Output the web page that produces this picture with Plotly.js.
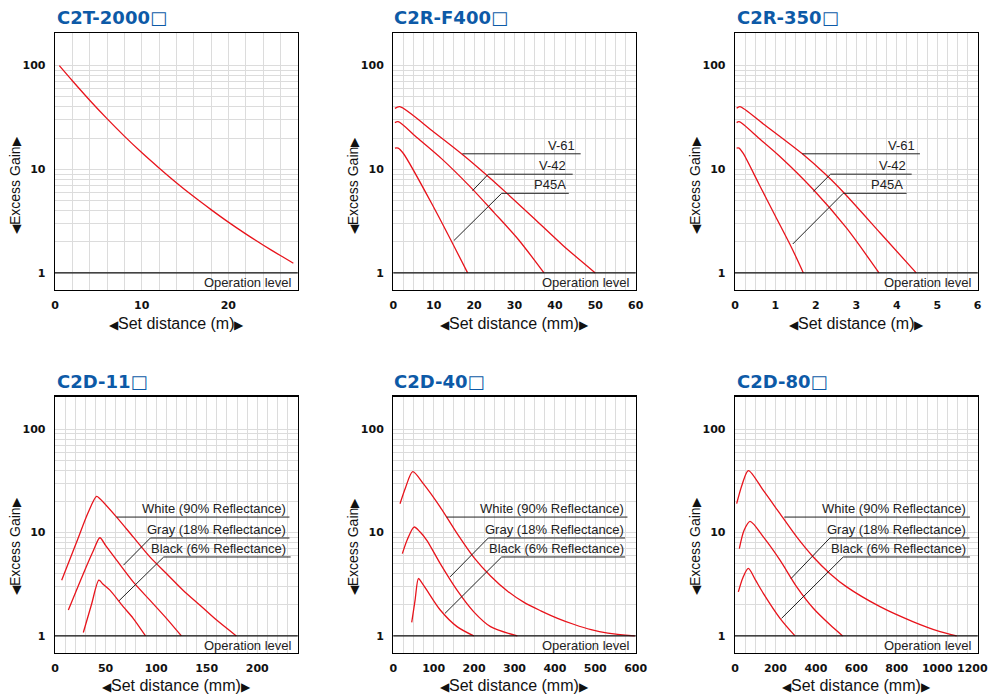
<!DOCTYPE html>
<html><head><meta charset="utf-8">
<script src="https://cdn.plot.ly/plotly-3.0.1.min.js"></script>
<style>html,body{margin:0;padding:0;background:#fff;} #chart{width:990px;height:699px;}</style>
</head><body><div id="chart"></div>
<script>
// ---------- DATA ----------
// Excess gain ticks (log axis)
const gain_ticks = [1, 10, 100];

// C2T-2000 (m)
const c2t_ticks = [0, 10, 20];
const c2t_x = [0.5, 2, 4, 6, 8, 10, 12, 14, 16, 18, 20, 22, 24, 26, 27.5];
const c2t_y = [100, 71.5, 46.4, 30.8, 20.9, 14.5, 10.3, 7.42, 5.45, 4.08, 3.09, 2.38, 1.86, 1.47, 1.24];

// C2R-F400 (mm)
const f400_ticks = [0, 10, 20, 30, 40, 50, 60];
const f400_v61_x = [0.4, 1.6, 10, 17.5, 23, 28, 35, 42, 50];
const f400_v61_y = [38.7, 40.2, 22.9, 13.5, 8.85, 5.92, 3.31, 1.84, 1.0];
const f400_v42_x = [0.4, 1.2, 6, 12, 19, 25, 31, 37.3];
const f400_v42_y = [28.2, 28.8, 20.0, 12.6, 6.8, 3.8, 2.09, 1.0];
const f400_p45a_x = [0.4, 1.2, 2.5, 10, 18.4];
const f400_p45a_y = [16, 16, 14.2, 4.3, 1.0];

// C2R-350 (m)
const r350_ticks = [0, 1, 2, 3, 4, 5, 6];
const r350_v61_x = [0.04, 0.12, 0.7, 1.665, 2.27, 2.68, 3.59, 4.48];
const r350_v61_y = [38.8, 40.3, 27.4, 14.1, 8.7, 6.0, 2.43, 1.0];
const r350_v42_x = [0.04, 0.1, 0.6, 1.11, 1.94, 2.76, 3.56];
const r350_v42_y = [28.2, 28.8, 19.8, 13.3, 6.35, 2.7, 1.0];
const r350_p45a_x = [0.04, 0.1, 0.2, 0.6, 1.0, 1.4, 1.69];
const r350_p45a_y = [16, 16, 14.3, 7.1, 3.52, 1.75, 1.0];

// C2D-11 (mm)
const d11_ticks = [0, 50, 100, 150, 200];
const d11_white_x = [6.6, 21.4, 32.9, 41.1, 44.4, 60.9, 77.3, 93.8, 110.2, 126.6, 143.1, 159.5, 179.3];
const d11_white_y = [3.46, 8.1, 15.7, 22.3, 21.2, 14.1, 9.06, 5.81, 4.01, 2.77, 1.99, 1.43, 1.0];
const d11_gray_x = [13.2, 28, 38, 44.4, 50, 60.9, 77.3, 93.8, 110.2, 125];
const d11_gray_y = [1.78, 4.0, 6.7, 8.9, 7.5, 5.4, 3.33, 2.22, 1.48, 1.0];
const d11_black_x = [28.0, 36, 43.4, 47, 54.3, 67.4, 77.3, 89.5];
const d11_black_y = [1.08, 2.0, 3.46, 3.2, 2.77, 1.92, 1.48, 1.0];

// C2D-40 (mm)
const d40_ticks = [0, 100, 200, 300, 400, 500, 600];
const d40_white_x = [16.6, 30, 48.1, 74.7, 116.2, 157.7, 199.2, 240.7, 282.2, 323.7, 365.1, 406.6, 448, 489.6, 531, 597.5];
const d40_white_y = [19, 27, 38.8, 29.5, 17.6, 9.8, 5.75, 3.8, 2.72, 2.11, 1.75, 1.48, 1.29, 1.15, 1.066, 1.0];
const d40_gray_x = [22.4, 35, 51.5, 66.4, 83, 116.2, 157.7, 199.2, 240.7, 307];
const d40_gray_y = [6.25, 8.6, 11.3, 10.1, 8.4, 5.0, 2.77, 1.71, 1.23, 1.0];
const d40_black_x = [45.6, 53.9, 62.2, 70, 83, 116.2, 157.7, 199.2];
const d40_black_y = [1.35, 2.22, 3.59, 3.3, 2.77, 1.78, 1.23, 1.0];

// C2D-80 (mm)
const d80_ticks = [0, 200, 400, 600, 800, 1000, 1200];
const d80_white_x = [8.2, 35, 66, 140, 222.5, 305, 387, 470, 552, 717, 882, 1014, 1096];
const d80_white_y = [19, 29, 39.7, 25.5, 15.2, 9.06, 5.8, 4.0, 2.98, 1.92, 1.37, 1.1, 1.0];
const d80_gray_x = [21.4, 45, 74.2, 140, 222.5, 305, 387, 470, 532];
const d80_gray_y = [6.98, 10.5, 12.8, 9.06, 5.4, 2.98, 1.85, 1.28, 1.0];
const d80_black_x = [16.5, 40, 66, 100, 140, 222.5, 296.7];
const d80_black_y = [2.67, 3.7, 4.49, 3.5, 2.58, 1.48, 1.0];

// ---------- LAYOUT ----------
const W = 990, H = 699;
const colDom = [[55, 297.7], [393.3, 635.7], [735, 977.7]];
const rowDom = [[33, 290], [396.5, 653]];
const titleY = [17, 381], xTitleY = [323, 685], yTitleY = [185, 546];

const panels = [
  {title:'C2T-2000', max:28, step:2, ticks:c2t_ticks, unit:'(m)', col:0, row:0,
   series:[[c2t_x, c2t_y]], labels:[]},
  {title:'C2R-F400', max:60, step:2.5, ticks:f400_ticks, unit:'(mm)', col:1, row:0,
   series:[[f400_v61_x, f400_v61_y],[f400_v42_x, f400_v42_y],[f400_p45a_x, f400_p45a_y]],
   labels:[
     {t:'V-61', tx:0.757, u0:0.285, u1:0.773, y:14.1},
     {t:'V-42', tx:0.719, u0:0.392, u1:0.740, y:8.96, dx:0.327, dy:6.22},
     {t:'P45A', tx:0.719, u0:0.447, u1:0.724, y:5.86, dx:0.250, dy:2.05}]},
  {title:'C2R-350', max:6, step:0.25, ticks:r350_ticks, unit:'(m)', col:2, row:0,
   series:[[r350_v61_x, r350_v61_y],[r350_v42_x, r350_v42_y],[r350_p45a_x, r350_p45a_y]],
   labels:[
     {t:'V-61', tx:0.749, u0:0.277, u1:0.762, y:14.1},
     {t:'V-42', tx:0.714, u0:0.394, u1:0.728, y:8.97, dx:0.323, dy:6.12},
     {t:'P45A', tx:0.700, u0:0.446, u1:0.707, y:5.86, dx:0.238, dy:1.9}]},
  {title:'C2D-11', max:240, step:10, ticks:d11_ticks, unit:'(mm)', col:0, row:1,
   series:[[d11_white_x, d11_white_y],[d11_gray_x, d11_gray_y],[d11_black_x, d11_black_y]],
   labels:[
     {t:'White (90% Reflectance)', tx:0.962, u0:0.254, u1:0.966, y:14.1},
     {t:'Gray (18% Reflectance)', tx:0.962, u0:0.393, u1:0.966, y:8.85, dx:0.282, dy:4.83},
     {t:'Black (6% Reflectance)', tx:0.962, u0:0.448, u1:0.971, y:5.8, dx:0.264, dy:2.19}]},
  {title:'C2D-40', max:600, step:25, ticks:d40_ticks, unit:'(mm)', col:1, row:1,
   series:[[d40_white_x, d40_white_y],[d40_gray_x, d40_gray_y],[d40_black_x, d40_black_y]],
   labels:[
     {t:'White (90% Reflectance)', tx:0.96, u0:0.220, u1:0.966, y:14.1},
     {t:'Gray (18% Reflectance)', tx:0.96, u0:0.392, u1:0.956, y:8.85, dx:0.234, dy:3.72},
     {t:'Black (6% Reflectance)', tx:0.96, u0:0.447, u1:0.956, y:5.8, dx:0.213, dy:1.65}]},
  {title:'C2D-80', max:1200, step:50, ticks:d80_ticks, unit:'(mm)', col:2, row:1, edgeLabel:true,
   series:[[d80_white_x, d80_white_y],[d80_gray_x, d80_gray_y],[d80_black_x, d80_black_y]],
   labels:[
     {t:'White (90% Reflectance)', tx:0.962, u0:0.203, u1:0.968, y:14.1},
     {t:'Gray (18% Reflectance)', tx:0.962, u0:0.391, u1:0.966, y:8.85, dx:0.231, dy:3.59},
     {t:'Black (6% Reflectance)', tx:0.962, u0:0.446, u1:0.968, y:5.8, dx:0.192, dy:1.48}]}
];

const RED = '#e8141c', GRID = '#dcdcdc', TXT = '#222';
const tickFont = {family:'DejaVu Sans', size:11, color:'#111', weight:'bold'};
const lblFont = {family:'Liberation Sans, Arial, sans-serif', size:13, color:TXT};
const tri = s => '<span style="font-size:12px">' + s + '</span>';

const traces = [], annotations = [], shapes = [];
const layout = {width:W, height:H, margin:{l:0,r:0,t:0,b:0}, paper_bgcolor:'#fff', plot_bgcolor:'#fff',
  showlegend:false, hovermode:false, annotations, shapes};

// y-grid values: 1..9, 10..90, 100
const yGrid = [];
[1, 10].forEach(d => { for (let k = 1; k <= 9; k++) yGrid.push(k * d); });
yGrid.push(100);

panels.forEach((p, i) => {
  const n = i + 1, xs = n === 1 ? '' : String(n);
  const xa = 'x' + xs, ya = 'y' + xs;
  const cd = colDom[p.col], rd = rowDom[p.row];
  const xv = [], xt = [];
  const lastTick = p.ticks[p.ticks.length - 1];
  for (let k = 0; k * p.step <= p.max + 1e-9; k++) {
    const v = Math.round(k * p.step * 1000) / 1000;
    const show = p.ticks.includes(v) && !(p.edgeLabel && v === lastTick);
    xv.push(v); xt.push(show ? String(v) : '');
  }
  if (p.edgeLabel) {
    // last tick label sits at the figure's right edge: keep it inside
    annotations.push({xref:'paper', yref:'paper', x:989.5/W, y:1 - (rd[1] + 15.5)/H, xanchor:'right', yanchor:'middle',
      showarrow:false, text:String(lastTick), font:tickFont});
  }
  layout['xaxis' + xs] = {domain:[cd[0]/W, cd[1]/W], range:[0, p.max], anchor:ya,
    tickvals:xv, ticktext:xt, showgrid:true, gridcolor:GRID, gridwidth:1, zeroline:false,
    showline:true, mirror:true, linecolor:'#000', linewidth:1.3, ticks:'', tickfont:tickFont,
    ticklabelstandoff:4, ticklabeloverflow:'allow', fixedrange:true, tickangle:0};
  layout['yaxis' + xs] = {domain:[1 - rd[1]/H, 1 - rd[0]/H], type:'log', range:[-0.165, 2.315], anchor:xa,
    tickvals:yGrid, ticktext:yGrid.map(v => gain_ticks.includes(v) ? String(v) : ''),
    showgrid:true, gridcolor:GRID, gridwidth:1, zeroline:false,
    showline:true, mirror:true, linecolor:'#000', linewidth:1.3, ticks:'', tickfont:tickFont,
    ticklabelstandoff:6, fixedrange:true};

  p.series.forEach(s => traces.push({type:'scatter', mode:'lines', x:s[0], y:s[1], xaxis:xa, yaxis:ya,
    line:{color:RED, width:1.3, shape:'spline', smoothing:0.8}, hoverinfo:'skip'}));

  // Operation level
  shapes.push({type:'line', xref:xa + ' domain', yref:ya, x0:0, x1:1, y0:1, y1:1, line:{color:'#111', width:1.3}});
  annotations.push({xref:xa + ' domain', yref:ya, x:1, y:0, xanchor:'right', yanchor:'top', xshift:-4, yshift:0,
    text:'Operation level', showarrow:false, font:lblFont});

  // Curve labels with leaders
  p.labels.forEach(l => {
    annotations.push({xref:xa + ' domain', yref:ya, x:l.tx, y:Math.log10(l.y), xanchor:'right', yanchor:'bottom',
      yshift:-1, text:l.t, showarrow:false, font:lblFont});
    shapes.push({type:'line', xref:xa + ' domain', yref:ya, x0:l.u0, x1:l.u1, y0:l.y, y1:l.y, line:{color:TXT, width:1}});
    if (l.dx !== undefined)
      shapes.push({type:'line', xref:xa + ' domain', yref:ya, x0:l.u0, y0:l.y, x1:l.dx, y1:l.dy, line:{color:TXT, width:1}});
  });

  // Panel title
  annotations.push({xref:'paper', yref:'paper', x:(p.col === 1 ? 391.7 : cd[0])/W, y:1 - titleY[p.row]/H,
    xanchor:'left', yanchor:'middle', showarrow:false, text:p.title + '\u25A1',
    font:{family:'DejaVu Sans', size:18, color:'#0d5aa7', weight:'bold'}});
  // x title
  annotations.push({xref:'paper', yref:'paper', x:(cd[0] + cd[1]) / 2 / W, y:1 - xTitleY[p.row]/H,
    xanchor:'center', yanchor:'middle', showarrow:false,
    text:tri('\u25C0') + 'Set distance ' + p.unit + tri('\u25B6'),
    font:{family:'Liberation Sans, Arial, sans-serif', size:16, color:'#111'}});
  // y title
  annotations.push({xref:'paper', yref:'paper', x:(cd[0] - 40)/W, y:1 - yTitleY[p.row]/H,
    xanchor:'center', yanchor:'middle', showarrow:false, textangle:-90,
    text:tri('\u25C0') + 'Excess Gain' + tri('\u25B6'),
    font:{family:'Liberation Sans, Arial, sans-serif', size:14, color:'#111'}});
});

Plotly.newPlot('chart', traces, layout, {staticPlot:true, displayModeBar:false});
</script>
</body></html>
